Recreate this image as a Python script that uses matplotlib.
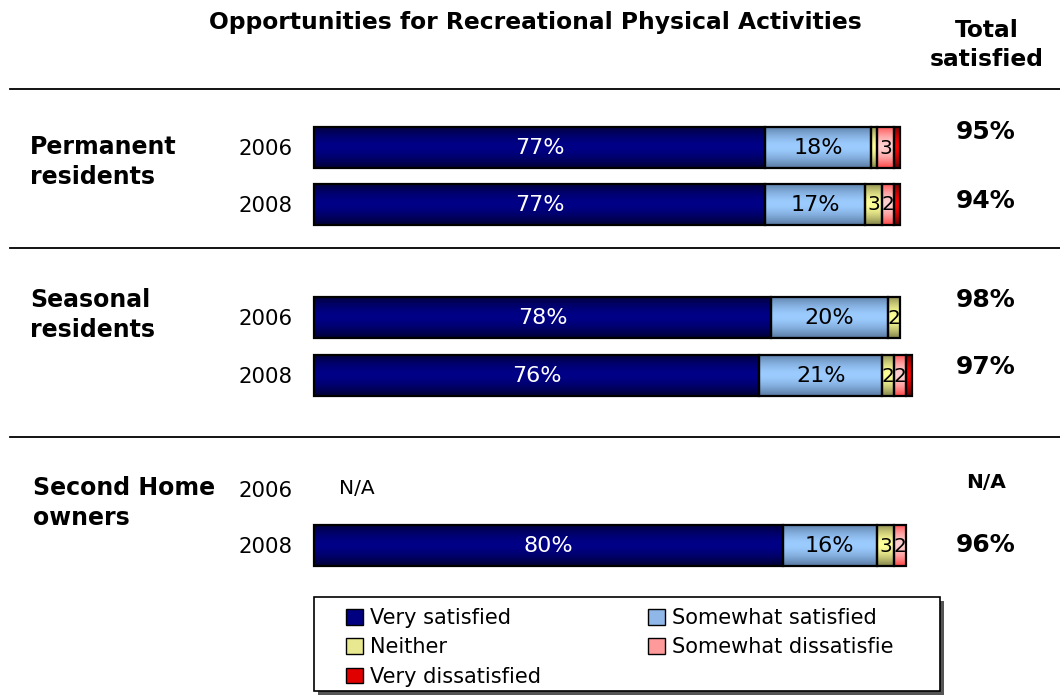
import numpy as np
import matplotlib
matplotlib.use("Agg")
import matplotlib.pyplot as plt
from matplotlib.patches import Patch, Rectangle

# ---- data -----------------------------------------------------------------
title = "Opportunities for Recreational Physical Activities"
groups = ["Permanent\nresidents", "Seasonal\nresidents", "Second Home\nowners"]
years = ["2006", "2008", "2006", "2008", "2006", "2008"]
categories = ["Very satisfied", "Somewhat satisfied", "Neither",
              "Somewhat dissatisfie", "Very dissatisfied"]
very_satisfied = [77, 77, 78, 76, np.nan, 80]
somewhat_satisfied = [18, 17, 20, 21, np.nan, 16]
neither = [1, 3, 2, 2, np.nan, 3]
somewhat_dissatisfied = [3, 2, 0, 2, np.nan, 2]
very_dissatisfied = [1, 1, 0, 1, np.nan, 0]
series = [very_satisfied, somewhat_satisfied, neither,
          somewhat_dissatisfied, very_dissatisfied]

# ---- styling ----------------------------------------------------------------
W, H = 1060, 696
plt.rcParams["font.family"] = ["DejaVu Sans"]
# (edge shade, centre shade) for each segment's vertical gradient
shades = [("#00003a", "#000088"),
          ("#5d7fa8", "#9cccff"),
          ("#8c8c50", "#ffff99"),
          ("#ff5050", "#ffd0d0"),
          ("#700000", "#ff0000")]
flat = ["#000080", "#8fb8e8", "#e8e890", "#ff9a9a", "#e00000"]
text_col = ["white", "black", "black", "black", "black"]

fig = plt.figure(figsize=(W / 100, H / 100), dpi=100)
ax = fig.add_axes([0, 0, 1, 1])
bar_left, px_per_pct = 314, 5.86
xlim = (-bar_left / px_per_pct, (W - bar_left) / px_per_pct)
ax.set_xlim(*xlim)
ax.set_ylim(H, 0)
ax.axis("off")

row_y = np.array([147, 204, 317, 375, 489, 545])
bar_h = 41


def fpos(x, y):
    return x / W, 1 - y / H


def gradient(edge, centre, n=64):
    e = np.array(matplotlib.colors.to_rgb(edge))
    c = np.array(matplotlib.colors.to_rgb(centre))
    t = np.abs(np.linspace(-1, 1, n)) ** 1.6
    return (c[None, :] * (1 - t[:, None]) + e[None, :] * t[:, None])[:, None, :]


left = np.zeros(len(row_y))
for k, vals in enumerate(series):
    v = np.nan_to_num(np.array(vals, dtype=float))
    keep = v > 0
    bars = ax.barh(row_y[keep], v[keep], left=left[keep], height=bar_h,
                   color=flat[k], edgecolor="none", zorder=1,
                   label=categories[k])
    grad = gradient(*shades[k])
    for rect in bars:
        x0, y0 = rect.get_x(), rect.get_y()
        im = ax.imshow(grad, extent=[x0, x0 + rect.get_width(), y0 + bar_h, y0],
                       aspect="auto", zorder=2, interpolation="bilinear")
        im.set_clip_path(rect)
    ax.barh(row_y[keep], v[keep], left=left[keep], height=bar_h,
            facecolor="none", edgecolor="black", linewidth=1.6, zorder=3)
    for yy, l, val in zip(row_y, left, v):
        if val >= 2:
            big = val >= 10
            lab = f"{val:.0f}%" if big else f"{val:.0f}"
            ax.text(l + val / 2, yy + 1, lab, ha="center", va="center",
                    color=text_col[k], fontsize=16 if big else 14.5, zorder=4)
    left = left + v

ax.set_xlim(*xlim)
ax.set_ylim(H, 0)

# ---- surrounding text -------------------------------------------------------
fig.text(*fpos(535, 22), title, ha="center", va="center",
         fontsize=16.8, fontweight="bold")
fig.text(*fpos(987, 45), "Total\nsatisfied", ha="center", va="center",
         fontsize=16.8, fontweight="bold", linespacing=1.3)

for yy in (89, 248, 437):
    ax.plot([xlim[0] + 10 / px_per_pct, xlim[1]], [yy, yy],
            color="black", lw=1.3, clip_on=False)

group_pos = [(30, 162), (30, 315), (33, 503)]
for name, (gx, gy) in zip(groups, group_pos):
    fig.text(*fpos(gx, gy), name, ha="left", va="center", fontsize=17,
             fontweight="bold", linespacing=1.3)

for yy, yr in zip(row_y, years):
    fig.text(*fpos(293, yy + 2), yr, ha="right", va="center", fontsize=15.3)

total_y = [132, 201, 300, 367, 483, 545]
for i, yy in enumerate(total_y):
    if np.isnan(very_satisfied[i]):
        lab, fs = "N/A", 14.5
        ax.text(xlim[0] + 357 / px_per_pct, row_y[i], "N/A",
                ha="center", va="center", fontsize=14.5)
    else:
        lab = f"{very_satisfied[i] + somewhat_satisfied[i]:.0f}%"
        fs = 18
    fig.text(*fpos(986, yy), lab, ha="center", va="center", fontsize=fs,
             fontweight="bold")

# ---- legend -----------------------------------------------------------------
box = (314, 597, 626, 94)  # left, top, width, height in pixels
shadow = Rectangle(fpos(box[0] + 4, box[1] + box[3] + 4), box[2] / W,
                   box[3] / H, transform=fig.transFigure,
                   facecolor="#555555", edgecolor="none", zorder=0)
frame = Rectangle(fpos(box[0], box[1] + box[3]), box[2] / W, box[3] / H,
                  transform=fig.transFigure, facecolor="white",
                  edgecolor="black", linewidth=1.2, zorder=1)
fig.patches.extend([shadow, frame])

handles = [Patch(facecolor=flat[k], edgecolor="black", linewidth=1)
           for k in range(len(categories))]
order = [0, 2, 4, 1, 3]
leg = fig.legend([handles[i] for i in order], [categories[i] for i in order],
                 ncol=2, loc="upper left",
                 bbox_to_anchor=fpos(346, 608),
                 fontsize=15, frameon=False,
                 handlelength=0.8, handleheight=0.8,
                 handletextpad=0.35, labelspacing=0.45, borderpad=0.0,
                 borderaxespad=0, columnspacing=5.15)
leg.set_zorder(2)

fig.savefig("out.png", dpi=100)
